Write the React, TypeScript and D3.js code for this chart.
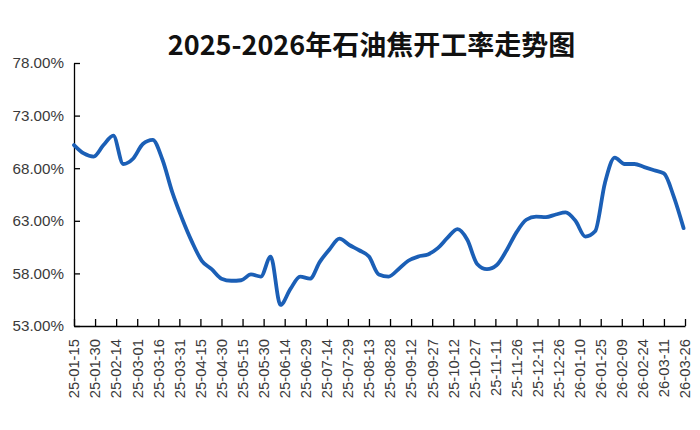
import React, { useEffect, useRef } from "react";
import * as d3 from "d3";

// weekly operating rate (%)
const rates = [
  70.2, 69.4, 69.1, 70.2, 71.1, 68.4, 68.9, 70.3, 70.7, 68.8,
  65.7, 63.2, 61.0, 59.2, 58.4, 57.5, 57.3, 57.35, 57.9, 57.7,
  59.6, 55.0, 56.5, 57.7, 57.5, 59.1, 60.3, 61.3, 60.7, 60.2,
  59.6, 57.9, 57.7, 58.4, 59.2, 59.6, 59.8, 60.4, 61.4, 62.2,
  61.2, 58.9, 58.4, 58.8, 60.2, 61.9, 63.1, 63.4, 63.35, 63.6,
  63.8, 63.0, 61.5, 62.0, 66.6, 69.0, 68.4, 68.4, 68.1, 67.8,
  67.5, 65.3, 62.3,
];

const tickLabels = [
  "25-01-15", "25-01-30", "25-02-14", "25-03-01", "25-03-16", "25-03-31",
  "25-04-15", "25-04-30", "25-05-15", "25-05-30", "25-06-14", "25-06-29",
  "25-07-14", "25-07-29", "25-08-13", "25-08-28", "25-09-12", "25-09-27",
  "25-10-12", "25-10-27", "25-11-11", "25-11-26", "25-12-11", "25-12-26",
  "26-01-10", "26-01-25", "26-02-09", "26-02-24", "26-03-11", "26-03-26",
];

const yTicks = [53, 58, 63, 68, 73, 78];

const title = "2025-2026年石油焦开工率走势图";

const parse = d3.timeParse("%y-%m-%d");
const tickFont = "Arial, 'Liberation Sans', Helvetica, sans-serif";

const LineChart: React.FC = () => {
  const svgRef = useRef<SVGSVGElement>(null);
  const width = 700;
  const height = 430;
  const margin = { top: 63, right: 15, bottom: 104, left: 74 };

  useEffect(() => {
    if (!svgRef.current) return;
    const svg = d3.select(svgRef.current);
    svg.selectAll("*").remove();

    const start = parse(tickLabels[0]) as Date;
    const end = parse(tickLabels[tickLabels.length - 1]) as Date;
    const dates = rates.map((_, i) => d3.timeDay.offset(start, i * 7));

    const x = d3
      .scaleTime()
      .domain([start, end])
      .range([margin.left, width - margin.right]);

    const y = d3
      .scaleLinear()
      .domain([53, 78])
      .range([height - margin.bottom, margin.top]);

    svg
      .append("text")
      .attr("x", (margin.left + width - margin.right) / 2 - 8)
      .attr("y", 55)
      .attr("text-anchor", "middle")
      .attr("font-family", "'Noto Sans CJK SC', sans-serif")
      .attr("font-weight", 700)
      .attr("font-size", 27)
      .attr("fill", "#111")
      .text(title);

    // x axis, ticks point inwards
    const xAxis = d3
      .axisBottom(x)
      .tickValues(tickLabels.map((t) => parse(t) as Date))
      .tickSizeInner(-7)
      .tickSizeOuter(0)
      .tickFormat(() => "");

    const gx = svg
      .append("g")
      .attr("transform", `translate(0,${height - margin.bottom})`)
      .call(xAxis);
    gx.selectAll("path, line").attr("stroke", "#000").attr("stroke-width", 1.3);

    svg
      .append("g")
      .selectAll("text")
      .data(tickLabels)
      .join("text")
      .attr(
        "transform",
        (d) => `translate(${x(parse(d) as Date)},${height - margin.bottom + 13}) rotate(-90)`
      )
      .attr("text-anchor", "end")
      .attr("dy", "0.36em")
      .style("font-family", tickFont)
      .attr("font-size", 14.8)
      .attr("fill", "#3a3a3a")
      .text((d) => d);

    // y axis
    const yAxis = d3
      .axisLeft(y)
      .tickValues(yTicks)
      .tickSizeInner(-6)
      .tickSizeOuter(0)
      .tickPadding(10)
      .tickFormat((d) => `${(+d).toFixed(2)}%`);

    const gy = svg
      .append("g")
      .attr("transform", `translate(${margin.left},0)`)
      .call(yAxis);
    gy.selectAll("path, line").attr("stroke", "#000").attr("stroke-width", 1.3);
    gy.selectAll("text")
      .style("font-family", tickFont)
      .attr("font-size", 15.2)
      .attr("fill", "#3a3a3a");

    const line = d3
      .line<number>()
      .x((_, i) => x(dates[i]))
      .y((d) => y(d))
      .curve(d3.curveMonotoneX);

    svg
      .append("path")
      .datum(rates)
      .attr("d", line)
      .attr("fill", "none")
      .attr("stroke", "#1b5fb6")
      .attr("stroke-width", 3.8)
      .attr("stroke-linejoin", "round")
      .attr("stroke-linecap", "round");
  }, []);

  return (
    <svg
      ref={svgRef}
      width={width}
      height={height}
      style={{ position: "absolute", left: 0, top: 0, background: "#fff" }}
    ></svg>
  );
};

export default function App() {
  return <LineChart />;
}
